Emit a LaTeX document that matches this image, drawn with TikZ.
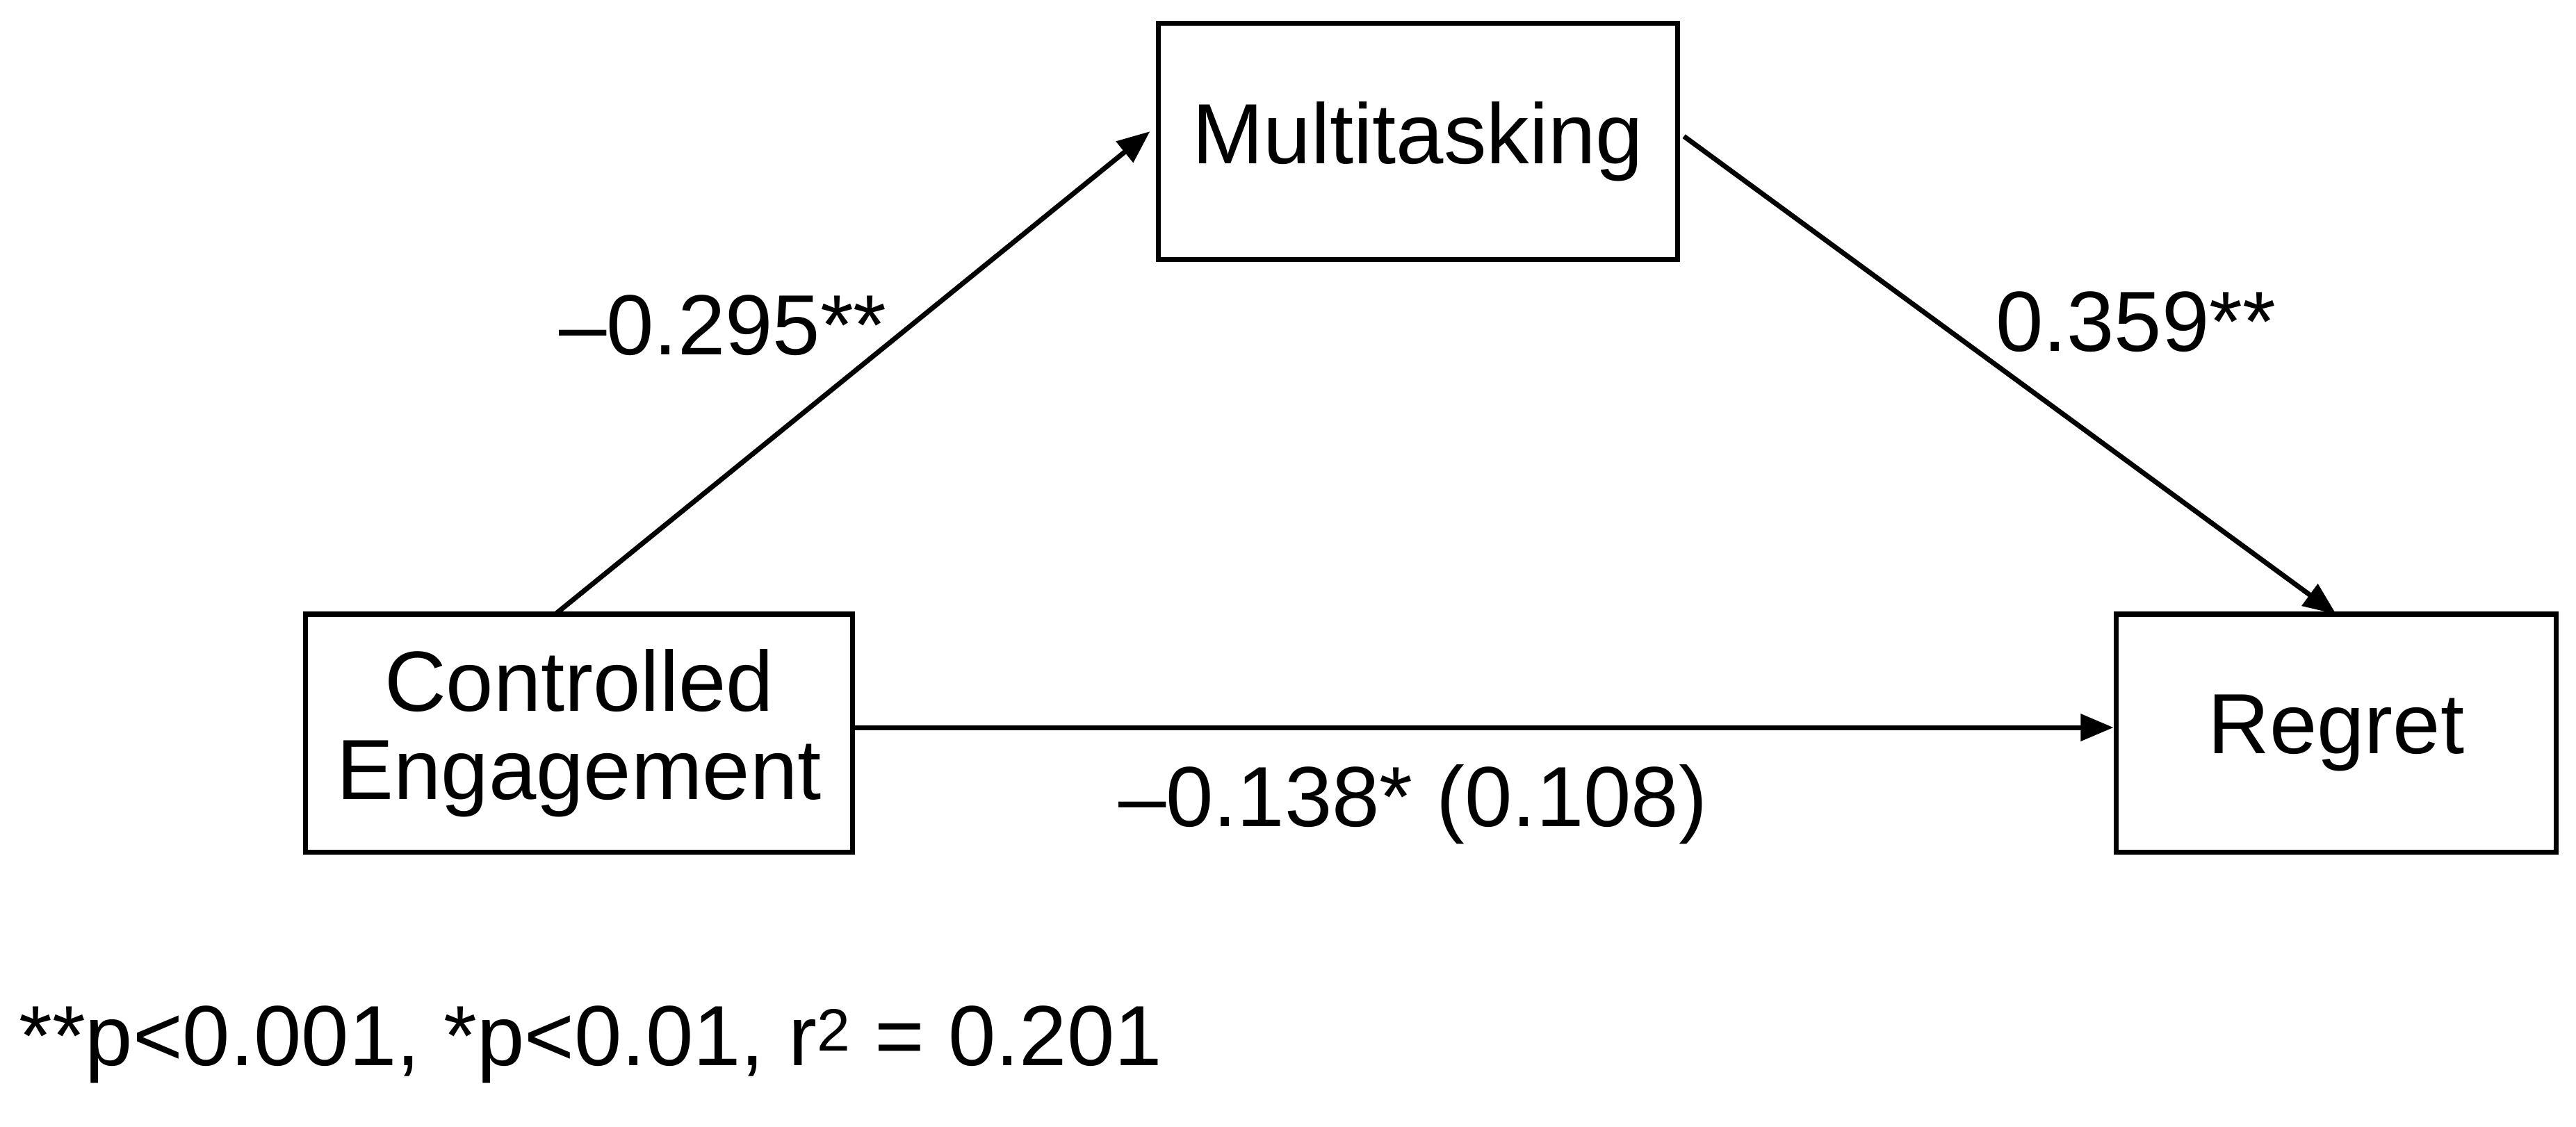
\documentclass[tikz,border=0pt]{standalone}
\usepackage{fontspec}
\setmainfont{Liberation Sans}
\usetikzlibrary{arrows.meta}
\begin{document}
\begin{tikzpicture}[x=1pt,y=-1pt,
  box/.style={draw,line width=3pt,inner sep=0pt,font=\fontsize{52}{60}\selectfont},
  conn/.style={line width=3pt,-{Triangle[length=20pt,width=16pt]}},
  lab/.style={font=\fontsize{52}{60}\selectfont}]
\useasboundingbox (0,0) rectangle (1568,686);
\node[box,minimum width=316pt,minimum height=144pt] (m) at (863,86) {Multitasking};
\node[box,minimum width=333pt,minimum height=145pt,align=center] (c) at (352.5,446.5) {Controlled\\[-6pt]Engagement};
\node[box,minimum width=268pt,minimum height=145pt] (r) at (1422,446.5) {Regret};
\coordinate (cs) at (338,374);
\coordinate (me) at (700,80);
\coordinate (ms) at (1025,83);
\coordinate (re) at (1422,374);
\draw[conn] (cs) -- (me);
\draw[conn] (ms) -- (re);
\draw[conn] (c.east |- 0,443) -- (r.west |- 0,443);
\node[lab] (l1) at (440,198) {–0.295**};
\node[lab] (l2) at (1300,196) {0.359**};
\node[lab] (l3) at (860,490) {–0.138* (0.108)};
\node[lab,anchor=west] (fn) at (8,636) {**p<0.001, *p<0.01, r\textsuperscript{2} = 0.201};
\end{tikzpicture}
\end{document}
